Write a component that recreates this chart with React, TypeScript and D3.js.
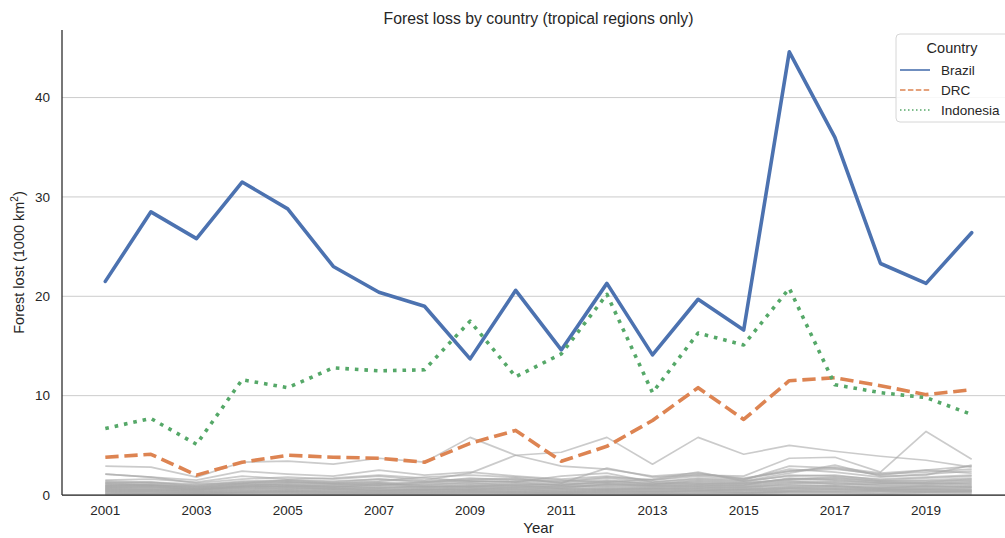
import React from "react";
import * as d3 from "d3";

const years = [2001, 2002, 2003, 2004, 2005, 2006, 2007, 2008, 2009, 2010, 2011, 2012, 2013, 2014, 2015, 2016, 2017, 2018, 2019, 2020];
const xTicks = [2001, 2003, 2005, 2007, 2009, 2011, 2013, 2015, 2017, 2019];
const yTicks = [0, 10, 20, 30, 40];

const brazil = [21.5, 28.5, 25.8, 31.5, 28.8, 23.0, 20.4, 19.0, 13.7, 20.6, 14.6, 21.3, 14.1, 19.7, 16.6, 44.6, 36.0, 23.3, 21.3, 26.4];
const drc = [3.8, 4.1, 2.0, 3.3, 4.0, 3.8, 3.7, 3.3, 5.2, 6.5, 3.4, 4.9, 7.5, 10.8, 7.6, 11.5, 11.8, 11.0, 10.1, 10.6];
const indonesia = [6.7, 7.7, 5.1, 11.6, 10.8, 12.8, 12.5, 12.6, 17.5, 11.9, 14.2, 20.2, 10.3, 16.3, 15.1, 20.8, 11.1, 10.3, 9.8, 8.1];

const otherCountries: number[][] = [
  [2.9, 2.8, 1.8, 3.3, 3.4, 3.1, 3.7, 3.3, 5.8, 4.0, 2.9, 2.6, 1.9, 2.2, 1.6, 2.4, 2.8, 2.2, 2.5, 2.9],
  [2.1, 1.8, 1.2, 1.6, 1.8, 1.6, 1.9, 1.5, 2.2, 4.0, 4.3, 5.8, 3.1, 5.8, 4.1, 5.0, 4.4, 3.9, 3.5, 2.8],
  [1.3, 1.2, 1.0, 1.4, 1.5, 1.3, 1.6, 1.4, 1.6, 1.7, 1.2, 2.7, 1.8, 2.0, 1.9, 3.7, 3.8, 2.3, 6.4, 3.6],
  [2.1, 1.8, 1.5, 2.4, 2.1, 1.9, 2.5, 2.0, 2.3, 1.9, 1.6, 1.9, 1.5, 2.1, 1.7, 2.4, 2.6, 2.1, 2.3, 2.6],
  [1.5, 1.6, 1.3, 1.9, 1.6, 1.7, 2.0, 1.7, 1.4, 1.3, 1.9, 2.2, 1.3, 1.7, 1.5, 2.9, 2.7, 2.0, 2.5, 2.2],
  [1.2, 1.0, 0.9, 1.1, 1.3, 1.2, 1.4, 1.8, 2.0, 1.8, 1.5, 1.3, 1.6, 2.3, 1.4, 2.2, 3.0, 1.9, 2.0, 3.0],
  [1.2, 1.3, 0.9, 1.3, 1.4, 1.2, 1.3, 1.2, 1.5, 1.6, 1.3, 1.7, 1.3, 1.6, 1.4, 1.9, 2.0, 1.5, 1.7, 1.9],
  [1.1, 1.0, 0.8, 1.2, 1.3, 1.1, 1.2, 1.0, 1.3, 1.4, 1.2, 1.5, 1.1, 1.4, 1.2, 1.6, 1.8, 1.4, 1.5, 1.7],
  [1.0, 0.9, 0.7, 1.0, 1.1, 0.9, 1.0, 1.1, 1.2, 1.0, 1.1, 1.2, 1.0, 1.3, 1.1, 1.5, 1.6, 1.3, 1.2, 1.4],
  [0.9, 1.0, 0.7, 1.1, 1.0, 1.0, 1.2, 0.9, 1.1, 1.2, 1.0, 1.4, 1.2, 1.2, 1.0, 1.7, 1.5, 1.2, 1.3, 1.6],
  [0.9, 0.8, 0.6, 0.9, 1.0, 0.8, 0.9, 0.8, 1.0, 0.9, 0.8, 1.0, 0.9, 1.1, 0.9, 1.3, 1.4, 1.2, 1.1, 1.3],
  [0.8, 0.7, 0.6, 0.8, 0.9, 0.7, 0.8, 0.7, 0.9, 0.8, 0.9, 0.9, 0.8, 1.0, 0.8, 1.2, 1.3, 1.0, 1.0, 1.2],
  [0.7, 0.8, 0.5, 0.9, 0.8, 0.9, 0.7, 0.9, 0.8, 1.0, 0.7, 1.1, 0.9, 0.9, 1.0, 1.4, 1.1, 1.1, 1.2, 1.1],
  [0.7, 0.6, 0.5, 0.7, 0.8, 0.6, 0.7, 0.6, 0.8, 0.7, 0.7, 0.8, 0.7, 0.9, 0.7, 1.1, 1.2, 0.9, 0.9, 1.0],
  [0.6, 0.6, 0.4, 0.6, 0.7, 0.6, 0.6, 0.5, 0.7, 0.6, 0.6, 0.7, 0.6, 0.8, 0.6, 0.9, 1.0, 0.8, 0.8, 0.9],
  [0.6, 0.5, 0.5, 0.7, 0.6, 0.7, 0.5, 0.6, 0.6, 0.8, 0.6, 0.6, 0.7, 0.7, 0.8, 1.0, 0.9, 0.7, 0.9, 0.8],
  [0.5, 0.5, 0.4, 0.5, 0.6, 0.5, 0.5, 0.5, 0.6, 0.5, 0.5, 0.6, 0.5, 0.7, 0.5, 0.8, 0.9, 0.7, 0.7, 0.8],
  [0.5, 0.4, 0.3, 0.5, 0.4, 0.5, 0.4, 0.5, 0.5, 0.6, 0.4, 0.5, 0.6, 0.5, 0.6, 0.7, 0.7, 0.6, 0.6, 0.6],
  [0.4, 0.4, 0.3, 0.4, 0.5, 0.4, 0.4, 0.4, 0.5, 0.4, 0.4, 0.5, 0.4, 0.6, 0.4, 0.7, 0.8, 0.6, 0.6, 0.7],
  [0.4, 0.3, 0.3, 0.3, 0.4, 0.3, 0.4, 0.3, 0.4, 0.4, 0.3, 0.4, 0.4, 0.4, 0.5, 0.5, 0.6, 0.5, 0.5, 0.5],
  [0.3, 0.3, 0.2, 0.3, 0.4, 0.3, 0.3, 0.3, 0.4, 0.3, 0.3, 0.4, 0.3, 0.5, 0.3, 0.6, 0.6, 0.5, 0.5, 0.5],
  [0.3, 0.2, 0.2, 0.3, 0.3, 0.3, 0.2, 0.3, 0.3, 0.3, 0.2, 0.3, 0.3, 0.3, 0.3, 0.4, 0.4, 0.4, 0.3, 0.4],
  [0.2, 0.2, 0.2, 0.2, 0.3, 0.2, 0.2, 0.2, 0.3, 0.2, 0.2, 0.3, 0.2, 0.4, 0.2, 0.4, 0.5, 0.4, 0.4, 0.4],
  [0.2, 0.1, 0.1, 0.2, 0.2, 0.2, 0.2, 0.2, 0.2, 0.2, 0.2, 0.2, 0.2, 0.2, 0.2, 0.3, 0.3, 0.3, 0.3, 0.3],
  [0.1, 0.1, 0.1, 0.2, 0.2, 0.1, 0.2, 0.1, 0.2, 0.2, 0.1, 0.2, 0.1, 0.2, 0.2, 0.3, 0.3, 0.2, 0.3, 0.3],
  [0.1, 0.1, 0.1, 0.1, 0.1, 0.1, 0.1, 0.1, 0.1, 0.1, 0.1, 0.1, 0.1, 0.1, 0.1, 0.2, 0.2, 0.1, 0.2, 0.2],
  [0.05, 0.05, 0.04, 0.05, 0.06, 0.05, 0.05, 0.05, 0.06, 0.05, 0.05, 0.06, 0.05, 0.07, 0.05, 0.08, 0.09, 0.07, 0.07, 0.08],
  [1.4, 1.3, 1.1, 1.2, 1.5, 1.4, 1.6, 1.3, 1.7, 1.5, 1.4, 1.8, 1.5, 1.9, 1.6, 2.6, 2.3, 1.8, 2.1, 2.4],
  [1.0, 1.1, 0.8, 0.9, 1.2, 1.1, 1.0, 1.3, 1.4, 1.3, 1.0, 1.3, 1.1, 1.5, 1.3, 2.0, 1.9, 1.6, 1.8, 2.0],
  [0.8, 0.9, 0.6, 0.8, 0.9, 0.8, 1.1, 0.8, 0.9, 1.1, 0.9, 1.1, 1.0, 1.1, 1.2, 1.6, 1.7, 1.4, 1.4, 1.5],
];

const W = 1005;
const H = 538;
const left = 62;
const right = 1015;
const top = 30;
const bottom = 495;
const font = "'Liberation Sans', Arial, sans-serif";
const textColor = "#262626";

const colors = { Brazil: "#4c72b0", DRC: "#dd8452", Indonesia: "#55a868" };

export default function App() {
  const x = d3.scaleLinear().domain([2001 - 0.95, 2020 + 0.95]).range([left, right]);
  const y = d3.scaleLinear().domain([0, 46.8]).range([bottom, top]);
  const line = d3
    .line<number>()
    .x((_, i) => x(years[i]))
    .y((d) => y(d));

  const lw = 3.6;
  const main = [
    { name: "Brazil", data: brazil, color: colors.Brazil, dash: "none", legendDash: "none" },
    { name: "DRC", data: drc, color: colors.DRC, dash: `${3.7 * lw},${1.6 * lw}`, legendDash: "5.5,2.4" },
    { name: "Indonesia", data: indonesia, color: colors.Indonesia, dash: `${1 * lw},${1.65 * lw}`, legendDash: "1.5,2.5" },
  ];

  return (
    <svg width={W} height={H} style={{ position: "absolute", left: 0, top: 0, background: "#fff" }} fontFamily={font}>
      <rect x={0} y={0} width={W} height={H} fill="#fff" />
      {yTicks.map((t) => (
        <line key={t} x1={left} x2={right} y1={y(t)} y2={y(t)} stroke="#cccccc" strokeWidth={1} />
      ))}
      <g fill="none" stroke="#a9a9a9" strokeWidth={1.7} strokeOpacity={0.6} strokeLinejoin="round">
        {otherCountries.map((s, i) => (
          <path key={i} d={line(s) || ""} />
        ))}
      </g>
      {main.map((m) => (
        <path
          key={m.name}
          d={line(m.data) || ""}
          fill="none"
          stroke={m.color}
          strokeWidth={lw}
          strokeDasharray={m.dash}
          strokeLinejoin="round"
          strokeLinecap={m.dash === "none" ? "round" : "butt"}
        />
      ))}
      <line x1={left} x2={left} y1={top} y2={bottom} stroke={textColor} strokeWidth={1.25} />
      <line x1={left} x2={right} y1={bottom} y2={bottom} stroke={textColor} strokeWidth={1.25} />
      {yTicks.map((t) => (
        <text key={t} x={50} y={y(t)} dy="0.35em" textAnchor="end" fontSize={13.5} fill={textColor}>
          {t}
        </text>
      ))}
      {xTicks.map((t) => (
        <text key={t} x={x(t)} y={515} textAnchor="middle" fontSize={13.5} fill={textColor}>
          {t}
        </text>
      ))}
      <text x={(left + right) / 2} y={533} textAnchor="middle" fontSize={15} fill={textColor}>
        Year
      </text>
      <text
        transform={`translate(19,${(top + bottom) / 2}) rotate(-90)`}
        textAnchor="middle"
        dy="0.35em"
        fontSize={14.5}
        fill={textColor}
      >
        Forest lost (1000 km<tspan dy="-6" fontSize={10}>2</tspan>
        <tspan dy="6">)</tspan>
      </text>
      <text x={(left + right) / 2} y={24} textAnchor="middle" fontSize={15.8} fill={textColor}>
        Forest loss by country (tropical regions only)
      </text>
      <g>
        <rect x={896} y={34} width={130} height={88} rx={4} fill="#ffffff" fillOpacity={0.85} stroke="#d6d6d6" strokeWidth={1} />
        <text x={952} y={48} dy="0.35em" textAnchor="middle" fontSize={14.5} fill={textColor}>
          Country
        </text>
        {main.map((m, i) => (
          <g key={m.name}>
            <line
              x1={900}
              x2={930}
              y1={70 + i * 20}
              y2={70 + i * 20}
              stroke={m.color}
              strokeWidth={1.6}
              strokeDasharray={m.legendDash}
            />
            <text x={941} y={70 + i * 20} dy="0.35em" fontSize={13.5} fill={textColor}>
              {m.name}
            </text>
          </g>
        ))}
      </g>
    </svg>
  );
}
